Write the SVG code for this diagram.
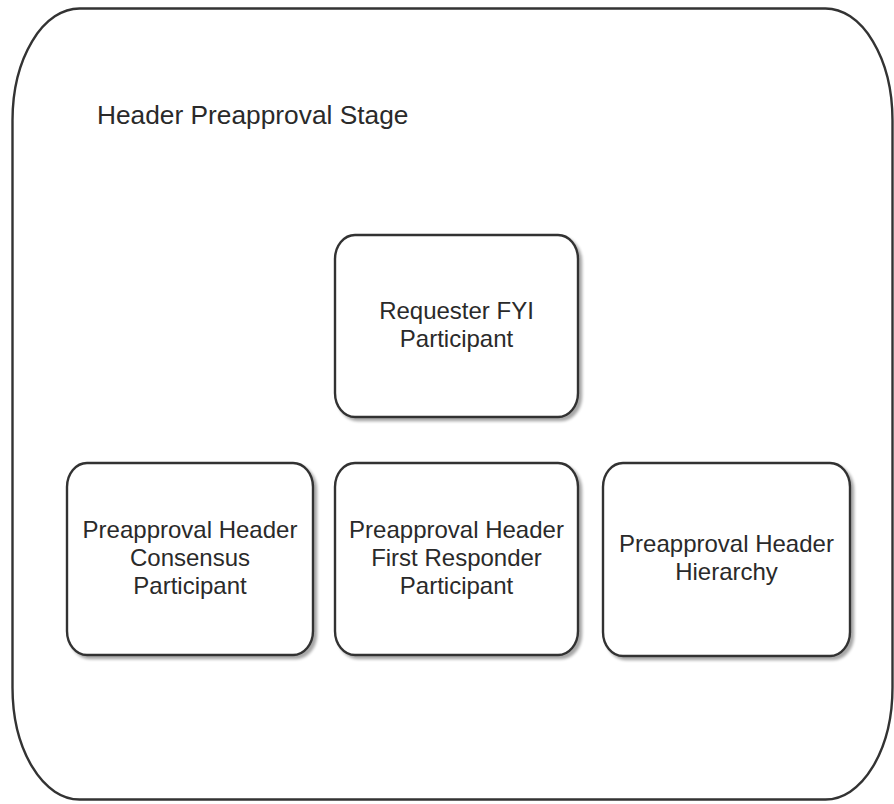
<svg xmlns="http://www.w3.org/2000/svg" width="894" height="804" viewBox="0 0 894 804">
<defs>
<style>
.stage{fill:#ffffff;stroke:#333333;stroke-width:2.4}
.box{fill:#ffffff;stroke:#333333;stroke-width:2.4;filter:url(#sh)}
.lbl{font-family:"Liberation Sans",Arial,sans-serif;font-size:24px;fill:#2a2a2a;text-anchor:middle}
.title{font-family:"Liberation Sans",Arial,sans-serif;font-size:26.3px;fill:#2a2a2a}
</style>
<filter id="sh" x="-10%" y="-10%" width="125%" height="125%">
<feGaussianBlur in="SourceAlpha" stdDeviation="1.8"/>
<feOffset dx="3" dy="3" result="b"/>
<feComponentTransfer><feFuncA type="linear" slope="0.35"/></feComponentTransfer>
<feMerge><feMergeNode/><feMergeNode in="SourceGraphic"/></feMerge>
</filter>
</defs>
<rect width="894" height="804" fill="#ffffff"/>
<g id="stage">
<rect class="stage" x="12.5" y="8.5" width="880" height="791" rx="67" ry="112"/>
<text class="title" x="97" y="124">Header Preapproval Stage</text>
</g>
<g id="requester">
<rect class="box" x="335" y="235" width="243" height="182" rx="20" ry="24"/>
<text class="lbl" x="456.5" y="319">Requester FYI</text>
<text class="lbl" x="456.5" y="347">Participant</text>
</g>
<g id="consensus">
<rect class="box" x="67" y="463" width="246" height="192" rx="20" ry="24"/>
<text class="lbl" x="190" y="538">Preapproval Header</text>
<text class="lbl" x="190" y="566">Consensus</text>
<text class="lbl" x="190" y="594">Participant</text>
</g>
<g id="firstresponder">
<rect class="box" x="335" y="463" width="243" height="192" rx="20" ry="24"/>
<text class="lbl" x="456.5" y="538">Preapproval Header</text>
<text class="lbl" x="456.5" y="566">First Responder</text>
<text class="lbl" x="456.5" y="594">Participant</text>
</g>
<g id="hierarchy">
<rect class="box" x="603" y="463" width="247" height="193" rx="20" ry="24"/>
<text class="lbl" x="726.5" y="552">Preapproval Header</text>
<text class="lbl" x="726.5" y="580">Hierarchy</text>
</g>
<g id="connectors"/>
</svg>
